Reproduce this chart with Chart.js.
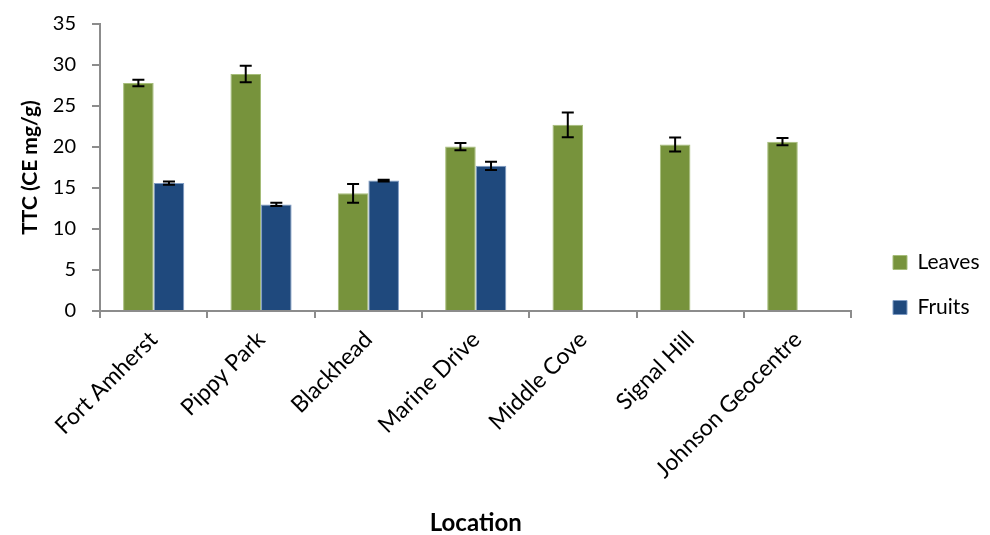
<!DOCTYPE html>
<html>
<head>
<meta charset="utf-8">
<script src="https://cdn.jsdelivr.net/npm/chart.js@4"></script>
<style>
  html, body { margin: 0; padding: 0; background: #fff; }
  #wrap { width: 990px; height: 535px; }
</style>
</head>
<body>
<div id="wrap"><canvas id="ttc"></canvas></div>
<script>
const locations = ["Fort Amherst", "Pippy Park", "Blackhead", "Marine Drive", "Middle Cove", "Signal Hill", "Johnson Geocentre"];
const leaves = [27.8, 28.9, 14.35, 20.05, 22.7, 20.3, 20.65];
const leavesErr = [0.4, 1.0, 1.15, 0.45, 1.5, 0.85, 0.45];
const fruits = [15.6, 13.0, 15.9, 17.7, null, null, null];
const fruitsErr = [0.2, 0.2, 0.1, 0.5, null, null, null];
const yTicks = [0, 5, 10, 15, 20, 25, 30, 35];

const FONT = "Lato, 'Open Sans', sans-serif";

// error bars drawn from the data through the y scale
const errorBars = {
  id: "errorBars",
  afterDatasetsDraw(chart) {
    const ctx = chart.ctx;
    const y = chart.scales.y;
    const errs = [leavesErr, fruitsErr];
    ctx.save();
    ctx.strokeStyle = "#000";
    ctx.lineWidth = 2;
    chart.data.datasets.forEach((ds, i) => {
      const meta = chart.getDatasetMeta(i);
      meta.data.forEach((bar, j) => {
        const v = ds.data[j], e = errs[i][j];
        if (v == null || e == null) return;
        const top = y.getPixelForValue(v + e);
        const bot = y.getPixelForValue(v - e);
        const x = bar.x, cap = 6;
        ctx.beginPath();
        ctx.moveTo(x, top); ctx.lineTo(x, bot);
        ctx.moveTo(x - cap, top); ctx.lineTo(x + cap, top);
        ctx.moveTo(x - cap, bot); ctx.lineTo(x + cap, bot);
        ctx.stroke();
      });
    });
    ctx.restore();
  }
};

// move legend a bit right of / below where chart.js puts it
const legendShift = {
  id: "legendShift",
  afterLayout(chart) {
    const lg = chart.legend;
    const w = lg.width;
    const h = lg.height;
    lg.left = 893 - lg.options.labels.padding;
    lg.right = lg.left + w;
    lg.bottom = chart.chartArea.bottom + 31;
    lg.top = lg.bottom - h;
  }
};

new Chart(document.getElementById("ttc"), {
  type: "bar",
  data: {
    labels: locations,
    datasets: [
      { label: "Leaves", data: leaves, backgroundColor: "#77933C", borderColor: "#A6BD7A", borderWidth: 1 },
      { label: "Fruits", data: fruits, backgroundColor: "#1F497D", borderColor: "#7F9CC4", borderWidth: 1 }
    ]
  },
  options: {
    responsive: true,
    maintainAspectRatio: false,
    animation: false,
    categoryPercentage: 0.57,
    barPercentage: 1,
    layout: { padding: { top: 24, right: 18, left: 0, bottom: 0 } },
    plugins: {
      tooltip: { enabled: false },
      legend: {
        position: "right",
        align: "end",
        fullSize: false,
        labels: {
          font: { family: FONT, size: 21 },
          color: "#000",
          boxWidth: 14,
          boxHeight: 14,
          padding: 24
        }
      }
    },
    scales: {
      x: {
        offset: true,
        afterFit(s) { s.height = 535 - 311; },
        grid: { offset: true, drawOnChartArea: false, drawTicks: true, tickLength: 7, color: "#8C8C8C", lineWidth: 2 },
        border: { color: "#8C8C8C", width: 2 },
        ticks: { maxRotation: 45, minRotation: 45, color: "#000", font: { family: FONT, size: 23 }, padding: 8, autoSkip: false },
        title: { display: true, text: "Location", color: "#000", font: { family: FONT, size: 24, weight: "bold" }, padding: { top: 4, bottom: -3 } }
      },
      y: {
        min: 0,
        max: 35,
        afterBuildTicks(scale) { scale.ticks = yTicks.map(v => ({ value: v })); },
        afterFit(s) { s.width = 100; s.paddingTop = 10; s.paddingBottom = 0; },
        grid: { drawOnChartArea: false, drawTicks: true, tickLength: 8, color: "#8C8C8C", lineWidth: 2 },
        border: { color: "#8C8C8C", width: 2 },
        ticks: { color: "#000", font: { family: FONT, size: 20 }, padding: 16 },
        title: { display: true, text: "TTC (CE mg/g)", color: "#000", font: { family: FONT, size: 21, weight: "bold" }, padding: { top: 18, bottom: 0 } }
      }
    }
  },
  plugins: [errorBars, legendShift]
});
</script>
</body>
</html>
